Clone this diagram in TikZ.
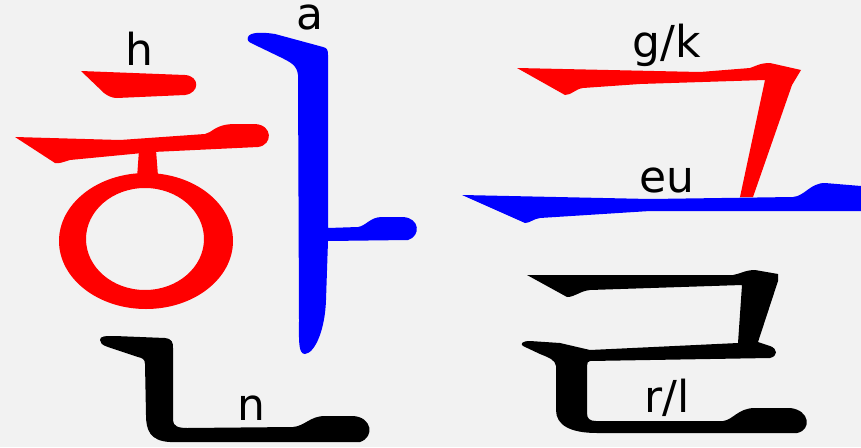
\documentclass[tikz,border=0pt]{standalone}
\usepackage{fontspec}
\usepackage{tikz}
\usepackage{xcolor}
\newfontfamily\lblfont{DejaVu Sans}
\definecolor{hred}{HTML}{FF0000}
\definecolor{hblue}{HTML}{0000FF}
\definecolor{bgrey}{HTML}{F2F2F2}

\begin{document}
\begin{tikzpicture}[x=1pt,y=-1pt,
  lbl/.style={anchor=base,inner sep=0pt,font=\lblfont\fontsize{44}{50}\selectfont}]
  \fill[bgrey] (0,0) rectangle (861,447);
  \useasboundingbox (0,0) rectangle (861,447);
  % Syllable han: h (red), a (blue), n (black)
  \begin{scope}
    \fill[hred] (81,71) -- (185,75) .. controls (200,76) and (200,93) .. (185,95)
      -- (117,98) .. controls (112,98) and (108,96) .. (104,93) -- cycle;
    \fill[hred] (15,137) -- (120,140) -- (205,134) .. controls (212,133) and (215,124) .. (235,124)
      -- (255,124) .. controls (273,125) and (273,145) .. (258,147) -- (153,152) -- (70,160)
      .. controls (63,162) and (59,164) .. (55,163) -- cycle;
    \fill[hred] (139,150) -- (156,150) -- (158,176) -- (137,178) -- cycle;
    \fill[hred,even odd rule] (146,241) ellipse (87 and 68) (145,239) ellipse (59 and 51);
    \fill[hblue] (248,37) .. controls (250,32) and (262,32) .. (275,34) -- (323,47)
      .. controls (327,48) and (328,50) .. (328,55) -- (328,228) -- (358,227)
      .. controls (366,226) and (370,217) .. (382,217) -- (403,217)
      .. controls (420,218) and (421,236) .. (408,240) -- (328,241) -- (326,300)
      .. controls (325,330) and (315,353) .. (305,354) .. controls (298,354) and (299,340) .. (299,320)
      -- (298,75) .. controls (297,65) and (290,62) .. (280,57) -- (253,44)
      .. controls (248,42) and (247,40) .. (248,37) -- cycle;
    \fill (100,340) .. controls (100,336) and (105,336) .. (115,336) -- (165,338)
      .. controls (172,339) and (173,342) .. (173,348) -- (173,420)
      .. controls (173,426) and (178,428) .. (187,428) -- (293,427)
      .. controls (305,426) and (310,416) .. (325,416) -- (353,416)
      .. controls (372,417) and (375,437) .. (360,442) -- (170,442)
      .. controls (150,441) and (146,430) .. (146,415) -- (145,364)
      .. controls (145,359) and (142,358) .. (138,357) -- (108,347)
      .. controls (102,345) and (100,343) .. (100,340) -- cycle;
    \node[lbl] (h) at (139,65) {h};
    \node[lbl] (a) at (310,29) {a};
    \node[lbl] (n) at (251,420) {n};
  \end{scope}
  % Syllable geul: g/k (red), eu (blue), r/l (black)
  \begin{scope}
    \fill[hred] (517,68) -- (700,72) -- (750,68) .. controls (756,66) and (760,63) .. (770,63)
      -- (801,70) -- (792,85) -- (753,197) -- (740,197) -- (765,80) -- (640,84) -- (583,88)
      .. controls (575,89) and (572,95) .. (565,95) -- cycle;
    \fill[hblue] (462,195) -- (650,199) -- (793,197) .. controls (805,196) and (810,183) .. (825,183)
      -- (861,186) -- (861,211) -- (650,211) -- (540,218)
      .. controls (533,219) and (530,223) .. (525,223) -- cycle;
    \fill (527,275) -- (733,275) .. controls (740,274) and (745,270) .. (755,270) -- (778,274)
      -- (778,281) -- (758,342) -- (770,346) .. controls (778,349) and (778,356) .. (770,358)
      -- (590,361) .. controls (588,361) and (587,363) .. (587,366) -- (587,413)
      .. controls (587,419) and (590,421) .. (596,421) -- (723,421)
      .. controls (733,420) and (738,408) .. (755,408) -- (790,408)
      .. controls (810,410) and (812,430) .. (797,433) -- (597,433)
      .. controls (570,433) and (556,425) .. (556,410) -- (556,366)
      .. controls (555,360) and (550,358) .. (540,354) -- (523,346)
      .. controls (520,344) and (522,341) .. (530,341) -- (560,343) -- (590,350) -- (738,343)
      -- (742,285) -- (590,290) .. controls (580,291) and (575,297) .. (567,297) -- cycle;
    \node[lbl] (gk) at (667,57) {g/k};
    \node[lbl] (eu) at (667,192) {eu};
    \node[lbl] (rl) at (667,412) {r/l};
  \end{scope}
\end{tikzpicture}
\end{document}
